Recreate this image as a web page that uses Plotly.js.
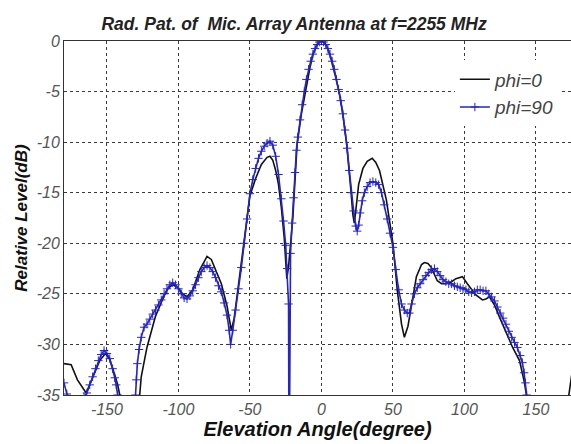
<!DOCTYPE html>
<html>
<head>
<meta charset="utf-8">
<script src="https://cdn.plot.ly/plotly-3.0.1.min.js"></script>
<style>html,body{margin:0;padding:0;background:#fff;}#chart{width:571px;height:444px;}</style>
</head>
<body>
<div id="chart"></div>
<script>
// phi = 0 (black)
const anglePhi0 = [-180,-175,-170.6,-164.5,-160,-155,-151,-148,-145,-142.6,-141,-136,-130,-127,-126,-122,-119,-116,-113,-110,-107,-104,-100,-97,-94,-90,-85,-80,-77,-74,-70,-66,-63,-61,-58,-55,-52,-50,-46,-42,-38,-36,-34,-32,-30,-28,-26,-25,-24.2,-23,-21.5,-20,-19,-18,-17,-14,-11,-8,-6,-4,-2,0,2,4,6,8,10,12.6,15,17.5,19,20.5,22,23,24,26,29,32,35.5,38,40.6,45.4,50,53,56,58,60.5,62.7,66.4,70,72,74.5,76.9,81,84,87,91,94,98.6,102,105,108,112.6,115,117.5,121,124.5,129,133.7,138.5,142,143.3,146,165,172,176];
const levelPhi0 = [-31.9,-32.0,-33.5,-34.8,-33.3,-31.6,-30.9,-31.5,-32.8,-33.9,-35,-40,-40,-35,-33.2,-30.3,-28.6,-27.2,-26.2,-25.2,-24.4,-24.1,-24.4,-25.0,-25.3,-24.6,-22.6,-21.3,-21.6,-22.6,-24.0,-26.2,-28.6,-27.4,-24.2,-21.0,-17.6,-15.3,-13.6,-12.2,-11.5,-11.4,-11.8,-12.8,-14.2,-16.5,-19.5,-21.5,-23.5,-22.3,-20.0,-17.5,-15.0,-12.5,-10.2,-7.2,-4.8,-2.6,-1.4,-0.6,-0.15,0,-0.15,-0.6,-1.4,-2.4,-3.6,-5.2,-7.3,-10,-12,-14.6,-17.2,-18,-16.8,-14.2,-12.6,-11.9,-11.6,-12.0,-12.8,-15.7,-20,-24.6,-28,-29.3,-28.2,-26.3,-23.3,-22.1,-21.9,-22.0,-22.4,-23.7,-24.0,-24.0,-23.8,-23.5,-23.3,-24,-24.6,-25.1,-25.6,-25.5,-25.3,-26.1,-27.3,-28.8,-30.3,-31.6,-33.8,-35,-40,-42,-36,-32];

// phi = 90 (blue, + markers)
const anglePhi90 = [-180,-178,-175,-170,-166,-164,-162,-160,-158,-156,-154,-152,-150,-148,-146,-144.5,-143.5,-142.5,-140,-132,-130,-129.5,-128.7,-127.5,-126,-124,-122,-120,-118,-116,-114,-112,-110,-108,-106,-104,-102,-100,-98,-96,-94,-92,-90,-88,-86,-84,-82,-80,-78,-76,-74,-72,-70,-68,-66,-64.5,-63.5,-62,-60,-58,-56,-54,-52,-50,-48,-46,-44,-42,-40,-38,-36,-34,-32,-30,-28,-26.5,-25,-24,-23,-22.6,-22.2,-21.6,-20.5,-19.5,-18.5,-17.5,-16.5,-15,-13.5,-12,-10.5,-9,-7.5,-6,-4.5,-3,-1.5,0,1.5,3,4.5,6,7.5,9,10.5,12,13.5,15,16.5,18,19.5,21,22.5,24,25,26,27,28.5,30,32,34,36,38,40,42,44,46,48,50,52,54,56,58,60,61.5,63,65,67,69,71,73,75,77,79,81,83,85,87,89,91,93,95,97,99,101,103,105,107,109,111,113,115,117,119,121,123,125,127,129,131,133,135,137,139,140.5,141.7,142.7,143.5,145];
const levelPhi90 = [-33.8,-34.9,-35.5,-35.6,-35.2,-34.8,-34.0,-33.2,-32.4,-31.6,-31.0,-30.6,-30.9,-31.4,-32.4,-33.3,-34.0,-35,-40,-40,-35,-33.5,-31.9,-30.5,-29.3,-28.3,-28.0,-27.5,-27.0,-26.6,-26.1,-25.6,-25.0,-24.5,-24.1,-23.9,-24.1,-24.5,-25.0,-25.4,-25.5,-25.2,-24.7,-24.1,-23.4,-22.8,-22.4,-22.2,-22.4,-22.8,-23.4,-24.2,-24.8,-25.9,-27.1,-28.6,-30.0,-28.6,-26.6,-24.5,-22.4,-20.0,-17.6,-15.1,-13.7,-12.6,-11.6,-10.9,-10.4,-10.1,-9.9,-10.3,-11.4,-13.2,-15.6,-17.8,-20.2,-22.5,-26,-45,-45,-21.0,-18.0,-15.5,-13.0,-10.8,-9.5,-7.8,-6.3,-5.0,-3.8,-2.8,-2.0,-1.3,-0.75,-0.35,-0.1,0,-0.1,-0.35,-0.75,-1.3,-2.0,-2.8,-3.8,-4.8,-5.9,-7.2,-8.8,-10.6,-12.8,-15.0,-16.8,-18.3,-18.8,-18.2,-17.0,-15.8,-15.0,-14.4,-14.0,-13.9,-14.0,-14.2,-15.0,-16.2,-17.6,-19.0,-20.4,-22.6,-24.6,-26.0,-26.6,-26.9,-26.9,-26.0,-25.0,-24.4,-24.0,-23.6,-23.2,-22.9,-22.6,-22.5,-22.8,-23.2,-23.6,-23.8,-24.0,-24.0,-24.2,-24.3,-24.4,-24.5,-24.6,-24.8,-24.9,-24.8,-24.6,-24.6,-24.7,-24.7,-25.0,-25.3,-25.7,-26.3,-26.9,-27.4,-28.0,-28.7,-29.3,-29.8,-30.3,-31.1,-31.8,-32.8,-33.8,-35,-40];

const seriesNames = ['phi=0', 'phi=90'];
const xTicks = [-150, -100, -50, 0, 50, 100, 150];
const yTicks = [0, -5, -10, -15, -20, -25, -30, -35];

const FONT = 'Liberation Sans, Arial, sans-serif';

const traces = [
  {x: anglePhi0, y: levelPhi0, name: seriesNames[0], type: 'scatter', mode: 'lines',
   line: {color: '#111111', width: 1.6}, legendgroup: 'a'},
  {x: anglePhi90, y: levelPhi90, name: seriesNames[1], type: 'scatter', mode: 'lines+markers',
   line: {color: '#2424c8', width: 1.6},
   marker: {symbol: 'cross-thin', size: 6, line: {color: '#2424c8', width: 1}}, legendgroup: 'b'}
];

const gridStyle = {gridcolor: '#3a3a3a', gridwidth: 1, griddash: '3px,3px'};

const layout = {
  width: 571, height: 444,
  margin: {l: 64, r: 0, t: 41, b: 49},
  paper_bgcolor: '#ffffff', plot_bgcolor: '#ffffff',
  font: {family: FONT},
  title: {text: '<b><i>Rad. Pat. of \u00a0Mic. Array Antenna at f=2255 MHz</i></b>',
          font: {family: FONT, size: 17.5, color: '#222'},
          xref: 'container', x: 0.515, xanchor: 'center', yref: 'container', y: 0.947, yanchor: 'middle'},
  xaxis: Object.assign({
    range: [-180, 174.5], tickvals: xTicks, ticktext: xTicks.map(String),
    showline: true, mirror: true, linecolor: '#333', linewidth: 1,
    zeroline: false, ticks: '', ticklen: 0,
    tickfont: {family: FONT, size: 16, color: '#555', style: 'italic'},
    title: {text: '<b><i>Elevation Angle(degree)</i></b>', font: {family: FONT, size: 20, color: '#111'}, standoff: 4}
  }, gridStyle),
  yaxis: Object.assign({
    range: [-35, 0], tickvals: yTicks, ticktext: yTicks.map(String),
    showline: true, mirror: true, linecolor: '#333', linewidth: 1,
    zeroline: false, ticks: '', ticklen: 0,
    tickfont: {family: FONT, size: 16, color: '#555', style: 'italic'},
    title: {text: '<b><i>Relative Level(dB)</i></b>', font: {family: FONT, size: 17, color: '#111'}, standoff: 4}
  }, gridStyle),
  showlegend: true,
  legend: {x: 0.771, xanchor: 'left', y: 0.945, yanchor: 'top',
           bgcolor: '#ffffff', borderwidth: 0, traceorder: 'normal',
           font: {family: FONT, size: 19, color: '#444', style: 'italic'}}
};

Plotly.newPlot('chart', traces, layout, {displayModeBar: false, staticPlot: true});
</script>
</body>
</html>
